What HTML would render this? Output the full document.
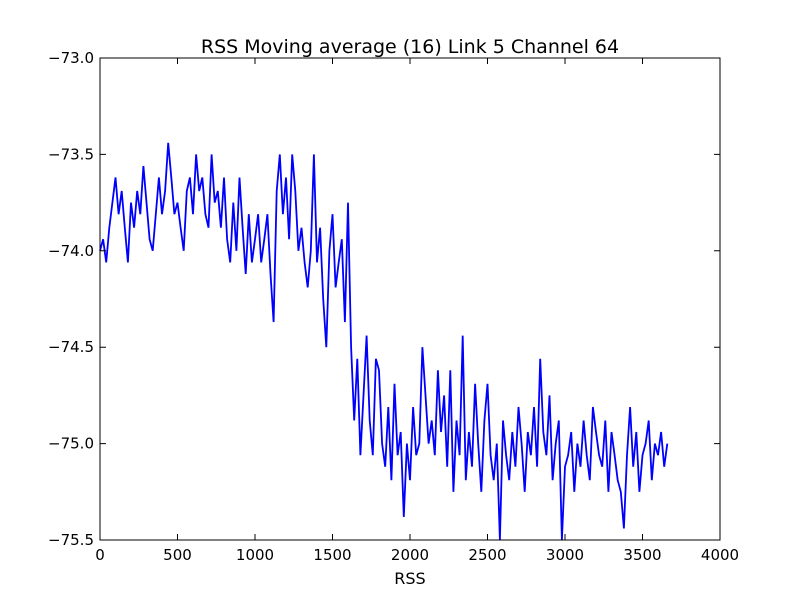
<!DOCTYPE html>
<html><head><meta charset="utf-8"><style>
body{margin:0;background:#fff;}
svg text{font-family:"DejaVu Sans","Liberation Sans",sans-serif;}
</style></head><body>
<svg id="chart" width="800" height="600">
<rect x="0" y="0" width="800" height="600" fill="#fff"/>
<g id="plot"></g>
<rect x="100" y="58" width="620" height="482" fill="none" stroke="#000" stroke-width="1"/>
<text x="410" y="53" text-anchor="middle" font-size="19">RSS Moving average (16) Link 5 Channel 64</text>
<text x="410" y="584" text-anchor="middle" font-size="16">RSS</text>
<g id="axes"></g>
</svg>
<script>
const xStart = 0;
const xStep = 20;
const rssValues = [
-74.0,-73.94,-74.06,-73.88,-73.75,-73.62,-73.81,-73.69,-73.88,-74.06,
-73.75,-73.88,-73.69,-73.81,-73.56,-73.75,-73.94,-74.0,-73.81,-73.62,
-73.81,-73.69,-73.44,-73.62,-73.81,-73.75,-73.88,-74.0,-73.69,-73.62,
-73.81,-73.5,-73.69,-73.62,-73.81,-73.88,-73.5,-73.75,-73.69,-73.88,
-73.62,-73.94,-74.06,-73.75,-74.0,-73.62,-73.88,-74.12,-73.81,-74.06,
-73.94,-73.81,-74.06,-73.94,-73.81,-74.12,-74.37,-73.69,-73.5,-73.81,
-73.62,-73.94,-73.5,-73.69,-74.0,-73.88,-74.06,-74.19,-74.0,-73.5,
-74.06,-73.88,-74.25,-74.5,-74.0,-73.81,-74.19,-74.06,-73.94,-74.37,
-73.75,-74.5,-74.88,-74.56,-75.06,-74.75,-74.44,-74.88,-75.06,-74.56,
-74.62,-75.0,-75.12,-74.81,-75.19,-74.69,-75.06,-74.94,-75.38,-75.0,
-75.19,-74.81,-75.06,-75.0,-74.5,-74.75,-75.0,-74.88,-75.06,-74.62,
-74.94,-74.75,-75.12,-74.62,-75.25,-74.88,-75.06,-74.44,-75.19,-74.94,
-75.12,-74.69,-75.0,-75.25,-74.88,-74.69,-75.06,-75.19,-75.0,-75.5,
-74.88,-75.06,-75.19,-74.94,-75.12,-74.81,-75.0,-75.25,-74.94,-75.06,
-74.81,-75.12,-74.56,-74.94,-75.06,-74.75,-75.19,-75.0,-74.88,-75.5,
-75.12,-75.06,-74.94,-75.25,-75.0,-75.12,-74.88,-75.06,-75.19,-74.81,
-74.94,-75.06,-75.12,-74.88,-75.25,-74.94,-75.06,-75.19,-75.25,-75.44,
-75.06,-74.81,-75.12,-74.94,-75.25,-75.06,-75.0,-74.88,-75.19,-75.0,
-75.06,-74.94,-75.12,-75.0];
const xTicks = [0,500,1000,1500,2000,2500,3000,3500,4000];
const yTicks = [-73.0,-73.5,-74.0,-74.5,-75.0,-75.5];
const yTickLabels = ["\u221273.0","\u221273.5","\u221274.0","\u221274.5","\u221275.0","\u221275.5"];

const NS="http://www.w3.org/2000/svg";
const X0=100,X1=720,Y0=58,Y1=540;
function xs(v){return X0+(v-0)/(4000-0)*(X1-X0);}
function ys(v){return Y0+(-73.0-v)/(2.5)*(Y1-Y0);}
const plot=document.getElementById('plot');
const pts=rssValues.map((v,i)=>xs(xStart+i*xStep).toFixed(1)+","+ys(v).toFixed(1)).join(" ");
const line=document.createElementNS(NS,'polyline');
line.setAttribute('points',pts);
line.setAttribute('fill','none');line.setAttribute('stroke','#0000ff');line.setAttribute('stroke-width','1.8');


plot.appendChild(line);
const axes=document.getElementById('axes');
xTicks.forEach(t=>{
  const x=xs(t);
  const l=document.createElementNS(NS,'path');
  l.setAttribute('d',`M${x},${Y1}v-6M${x},${Y0}v6`);l.setAttribute('stroke','#000');
  
  
  axes.appendChild(l);
  const tx=document.createElementNS(NS,'text');
  tx.setAttribute('x',x);tx.setAttribute('y',Y1+20);tx.setAttribute('text-anchor','middle');tx.setAttribute('font-size','15');
  tx.textContent=t;
  
  
  axes.appendChild(tx);
});
yTicks.forEach((t,i)=>{
  const y=ys(t);
  const l=document.createElementNS(NS,'path');
  l.setAttribute('d',`M${X0},${y}h6M${X1},${y}h-6`);l.setAttribute('stroke','#000');
  
  
  axes.appendChild(l);
  const tx=document.createElementNS(NS,'text');
  tx.setAttribute('x',X0-6);tx.setAttribute('y',y+5);tx.setAttribute('text-anchor','end');tx.setAttribute('font-size','15');
  tx.textContent=yTickLabels[i];
  
  
  axes.appendChild(tx);
});
</script>
</body></html>
